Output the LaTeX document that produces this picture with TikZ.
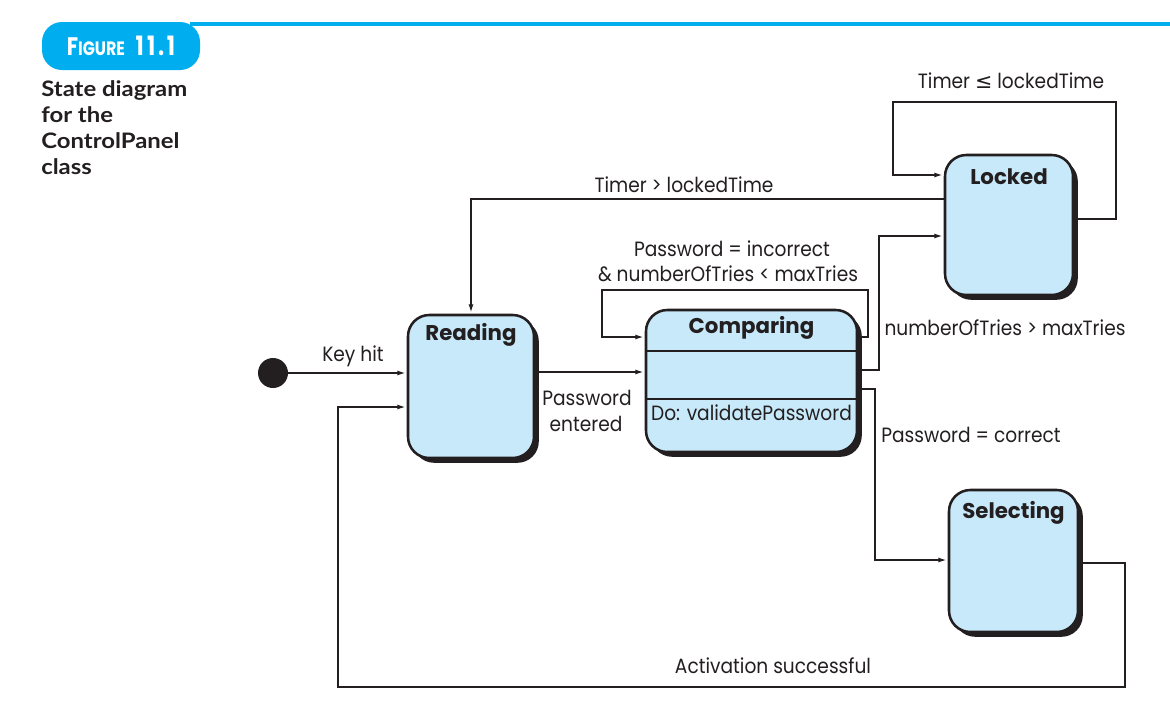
\documentclass[tikz,border=0pt]{standalone}
\usepackage{fontspec}
\setmainfont{Poppins}[FakeStretch=0.9]
\newfontfamily\ttlfont{Poppins}
\newfontfamily\hdrfont{Poppins}[FakeStretch=0.82]
\newfontfamily\capfont{Lato}[FakeStretch=1.12]
\newfontfamily\symfont{DejaVu Sans}
\usetikzlibrary{arrows.meta,shadows,calc}
\definecolor{stfill}{RGB}{200,233,249}
\definecolor{hdr}{RGB}{0,174,239}
\definecolor{ink}{RGB}{35,31,32}
\tikzset{
  stbox/.style={draw=ink, line width=1.9pt, fill=stfill, rounded corners=16pt, inner sep=0pt,
    general shadow={fill=ink, shadow xshift=3.6pt, shadow yshift=-3.6pt}},
  conn/.style={draw=ink, line width=1.4pt, -{Latex[length=7pt,width=3.6pt]}},
  lbl/.style={font=\fontsize{15.5}{19}\selectfont, text=ink, inner sep=0pt, anchor=base},
  ttl/.style={font=\ttlfont\bfseries\fontsize{16}{19}\selectfont, text=ink, inner sep=0pt, anchor=base},
}
\begin{document}
\begin{tikzpicture}[x=0.75pt,y=-0.75pt]
\useasboundingbox (0,0) rectangle (1170,718);
% header
\draw[hdr, line width=3pt] (190,23.7) -- (1170,23.7);
\node[fill=hdr, rounded corners=15pt, minimum width=118.5pt, minimum height=36pt, inner sep=0pt,
  text=white, font=\hdrfont\bfseries] (fig) at (121,46)
  {\fontsize{19}{19}\selectfont F\fontsize{14.5}{19}\selectfont IGURE\hspace{8pt}\fontsize{20}{19}\selectfont 1\kern2.5pt1\kern2pt.\kern2pt1};
\node[anchor=north west, align=left, inner sep=0pt, text=ink,
  font=\capfont\bfseries\fontsize{16}{19.5}\selectfont] (cap) at (41,80)
  {State diagram\\for the\\ControlPanel\\class};
% states
\node[stbox, minimum width=94.5pt, minimum height=107.25pt] (read) at (471,386.5) {};
\node[stbox, minimum width=158.25pt, minimum height=106.5pt] (cmp) at (751.5,381) {};
\node[stbox, minimum width=96pt, minimum height=105pt] (lock) at (1009,225) {};
\node[stbox, minimum width=96.75pt, minimum height=106.5pt] (sel) at (1013.5,561) {};
\draw[ink, line width=1.4pt] (cmp.west |- 0,351) -- (cmp.east |- 0,351);
\draw[ink, line width=1.4pt] (cmp.west |- 0,399) -- (cmp.east |- 0,399);
\node[ttl] (readT) at (read.center |- 0,340) {Reading};
\node[ttl] (cmpT) at (cmp.center |- 0,333) {Comparing};
\node[ttl] (lockT) at (lock.center |- 0,184) {Locked};
\node[ttl] (selT) at (sel.center |- 0,518) {Selecting};
\node[lbl] (doT) at (cmp.center |- 0,420) {Do: validatePassword};
% initial
\node[circle, fill=ink, minimum size=22.5pt, inner sep=0pt] (init) at (273,373) {};
% connectors
\draw[conn] (init.east) -- (read.west |- init.east);
\draw[conn] (read.east |- 0,372) -- (cmp.west |- 0,372);
\draw[conn] (cmp.east |- 0,337) -| (868,290) -| (602,337) -- (cmp.west |- 0,337);
\draw[conn] (cmp.east |- 0,370) -| (879,236) -- (lock.west |- 0,236);
\draw[conn] (cmp.east |- 0,389) -| (875,560) -- (sel.west |- 0,560);
\draw[conn] (lock.west |- 0,199) -| (read.north);
\draw[conn] (lock.east |- 0,219) -| (1116,102) -| (893,175) -- (lock.west |- 0,175);
\draw[conn] (sel.east |- 0,563) -| (1125,687) -| (338,407) -- (read.west |- 0,407);
% labels
\node[lbl] (lkey) at (353,361) {Key hit};
\node[lbl] (lpe1) at (587,405) {Password};
\node[lbl] (lpe2) at (586,431) {entered};
\node[lbl] (lpi1) at (732,256) {Password = incorrect};
\node[lbl] (lpi2) at (728,281) {\& numberOfTries < maxTries};
\node[lbl] (lnt) at (1005,335) {numberOfTries > maxTries};
\node[lbl] (lpc) at (971,442) {Password = correct};
\node[lbl] (ltg) at (684,192) {Timer > lockedTime};
\node[lbl] (ltl) at (1011,88) {Timer {\symfont ≤} lockedTime};
\node[lbl] (lact) at (773,673) {Activation successful};
\end{tikzpicture}
\end{document}
